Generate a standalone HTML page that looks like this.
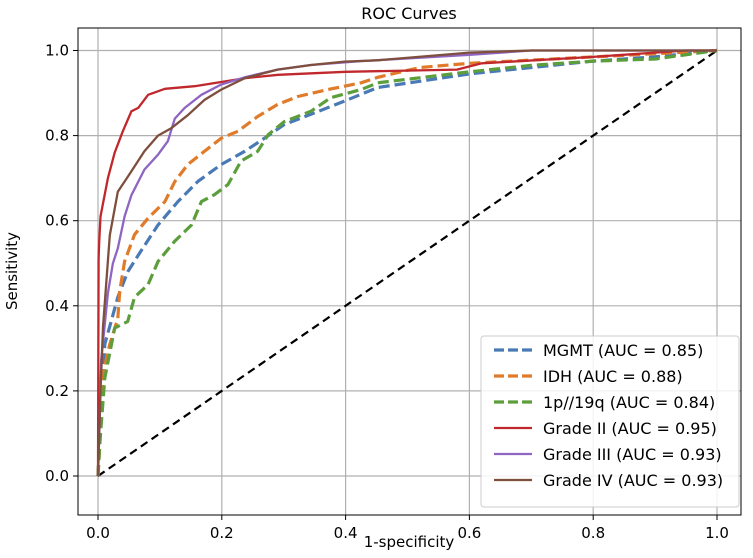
<!DOCTYPE html>
<html><head><meta charset="utf-8"><style>
body{margin:0;background:#fff;}
svg text{font-family:"DejaVu Sans","Liberation Sans",sans-serif;}
</style></head><body>
<svg id="chart" width="753" height="553" viewBox="0 0 753 553">
<text x="409" y="19" font-size="16" text-anchor="middle">ROC Curves</text>
<g id="grid"></g>
<g id="series"></g>
<rect x="78" y="28" width="663" height="487" fill="none" stroke="#000" stroke-width="1"/>
<g id="ticks"></g>
<text x="409" y="547" font-size="15" text-anchor="middle">1-specificity</text>
<text x="17" y="271" font-size="15" text-anchor="middle" transform="rotate(-90 17 271)">Sensitivity</text>
<g id="legend"></g>
</svg>
<script>
const tickValues=[0,0.2,0.4,0.6,0.8,1.0];
const tickLabels=["0.0","0.2","0.4","0.6","0.8","1.0"];
const seriesNames=["MGMT (AUC = 0.85)","IDH (AUC = 0.88)","1p//19q (AUC = 0.84)","Grade II (AUC = 0.95)","Grade III (AUC = 0.93)","Grade IV (AUC = 0.93)"];
const mgmtFpr=[0,0.003,0.011,0.022,0.032,0.048,0.07,0.097,0.129,0.161,0.199,0.237,0.269,0.301,0.344,0.398,0.452,0.6,0.7,0.8,0.9,1];
const mgmtTpr=[0,0.11,0.31,0.367,0.42,0.48,0.53,0.59,0.645,0.692,0.732,0.763,0.794,0.826,0.85,0.881,0.913,0.945,0.96,0.975,0.985,1];
const idhFpr=[0,0.003,0.008,0.019,0.032,0.035,0.043,0.059,0.081,0.108,0.124,0.145,0.172,0.199,0.226,0.258,0.29,0.323,0.371,0.425,0.452,0.52,0.6,0.8,1];
const idhTpr=[0,0.08,0.24,0.31,0.37,0.434,0.504,0.567,0.606,0.645,0.692,0.732,0.763,0.794,0.81,0.845,0.873,0.892,0.908,0.924,0.937,0.96,0.97,0.985,1];
const codelFpr=[0,0.003,0.011,0.027,0.048,0.059,0.081,0.097,0.124,0.151,0.167,0.188,0.21,0.231,0.258,0.275,0.301,0.344,0.376,0.425,0.452,0.6,0.7,0.8,0.9,1];
const codelTpr=[0,0.08,0.23,0.348,0.363,0.42,0.45,0.504,0.552,0.59,0.645,0.661,0.685,0.74,0.763,0.802,0.833,0.857,0.889,0.908,0.924,0.95,0.965,0.975,0.98,1];
const g2Fpr=[0,0.001,0.002,0.004,0.016,0.027,0.04,0.054,0.065,0.081,0.108,0.156,0.199,0.237,0.291,0.4,0.58,0.62,0.8,0.95,1];
const g2Tpr=[0,0.51,0.55,0.61,0.70,0.76,0.81,0.857,0.865,0.896,0.91,0.916,0.926,0.935,0.943,0.95,0.955,0.97,0.985,1,1];
const g3Fpr=[0,0.003,0.005,0.016,0.024,0.032,0.043,0.054,0.075,0.097,0.113,0.124,0.14,0.167,0.199,0.237,0.29,0.344,0.425,0.6,0.7,1];
const g3Tpr=[0,0.15,0.27,0.43,0.5,0.535,0.61,0.66,0.72,0.755,0.787,0.84,0.865,0.896,0.92,0.937,0.955,0.966,0.975,0.99,1,1];
const g4Fpr=[0,0.004,0.008,0.019,0.032,0.054,0.075,0.097,0.118,0.145,0.172,0.199,0.237,0.29,0.344,0.398,0.452,0.6,0.7,1];
const g4Tpr=[0,0.2,0.35,0.566,0.668,0.716,0.763,0.8,0.817,0.848,0.884,0.908,0.935,0.955,0.966,0.974,0.977,0.995,1,1];
const diagFpr=[0,1];
const diagTpr=[0,1];

const X0=98,X1=717,Y0=476,Y1=50.5;
const sx=v=>X0+v*(X1-X0);
const sy=v=>Y0-v*(Y0-Y1);
const NS="http://www.w3.org/2000/svg";
function mk(tag,attrs,parent){const e=document.createElementNS(NS,tag);for(const k in attrs)e.setAttribute(k,attrs[k]);parent.appendChild(e);return e;}
const grid=document.getElementById('grid'),ticks=document.getElementById('ticks');
tickValues.forEach((v,i)=>{
  let l=mk('line',{x1:sx(v),x2:sx(v),y1:28,y2:515,stroke:'#b0b0b0','stroke-width':1.2},grid);
  
  
  l=mk('line',{x1:78,x2:741,y1:sy(v),y2:sy(v),stroke:'#b0b0b0','stroke-width':1.2},grid);
  
  
  l=mk('line',{x1:sx(v),x2:sx(v),y1:515,y2:520,stroke:'#000'},ticks);
  
  
  l=mk('line',{x1:73,x2:78,y1:sy(v),y2:sy(v),stroke:'#000'},ticks);
  
  
  let t=mk('text',{x:sx(v),y:538,'font-size':15,'text-anchor':'middle'},ticks);
  t.textContent=tickLabels[i];
  
  
  t=mk('text',{x:69,y:sy(v)+5,'font-size':15,'text-anchor':'end'},ticks);
  t.textContent=tickLabels[i];
  
  
});
const colors=['#4a7ab5','#e07b2a','#5c9e3c','#c0282d','#8e66c2','#7f4f3e'];
const dashes=['11,5','11,5','11,5','','',''];
const widths=[3.2,3.2,3.2,2.3,2.3,2.3];
const xs=[mgmtFpr,idhFpr,codelFpr,g2Fpr,g3Fpr,g4Fpr];
const ys=[mgmtTpr,idhTpr,codelTpr,g2Tpr,g3Tpr,g4Tpr];
const keys=['mgmt','idh','1p19q','grade-ii','grade-iii','grade-iv'];
const ser=document.getElementById('series');
const d=diagFpr.map((v,i)=>(i?'L':'M')+sx(v)+','+sy(diagTpr[i])).join('');
let dg=mk('path',{d:d,fill:'none',stroke:'#000','stroke-width':2.2,'stroke-dasharray':'8,5'},ser);


xs.forEach((arr,s)=>{
  const p=arr.map((v,i)=>(i?'L':'M')+sx(v).toFixed(1)+','+sy(ys[s][i]).toFixed(1)).join('');
  const a={d:p,fill:'none',stroke:colors[s],'stroke-width':widths[s],'stroke-linejoin':'round'};
  if(dashes[s])a['stroke-dasharray']=dashes[s];
  const e=mk('path',a,ser);
  
  
});
const lg=document.getElementById('legend');
let box=mk('rect',{x:481,y:336,width:258,height:171,rx:3,fill:'#fff','fill-opacity':0.85,stroke:'#ccc'},lg);


seriesNames.forEach((n,i)=>{
  const y=350+i*26;
  const a={x1:494,x2:532,y1:y,y2:y,stroke:colors[i],'stroke-width':widths[i]};
  if(dashes[i])a['stroke-dasharray']='10,4';
  const l=mk('line',a,lg);
  
  
  const t=mk('text',{x:543,y:y+6,'font-size':16},lg);
  t.textContent=n;
  
  
});
</script>
</body></html>
